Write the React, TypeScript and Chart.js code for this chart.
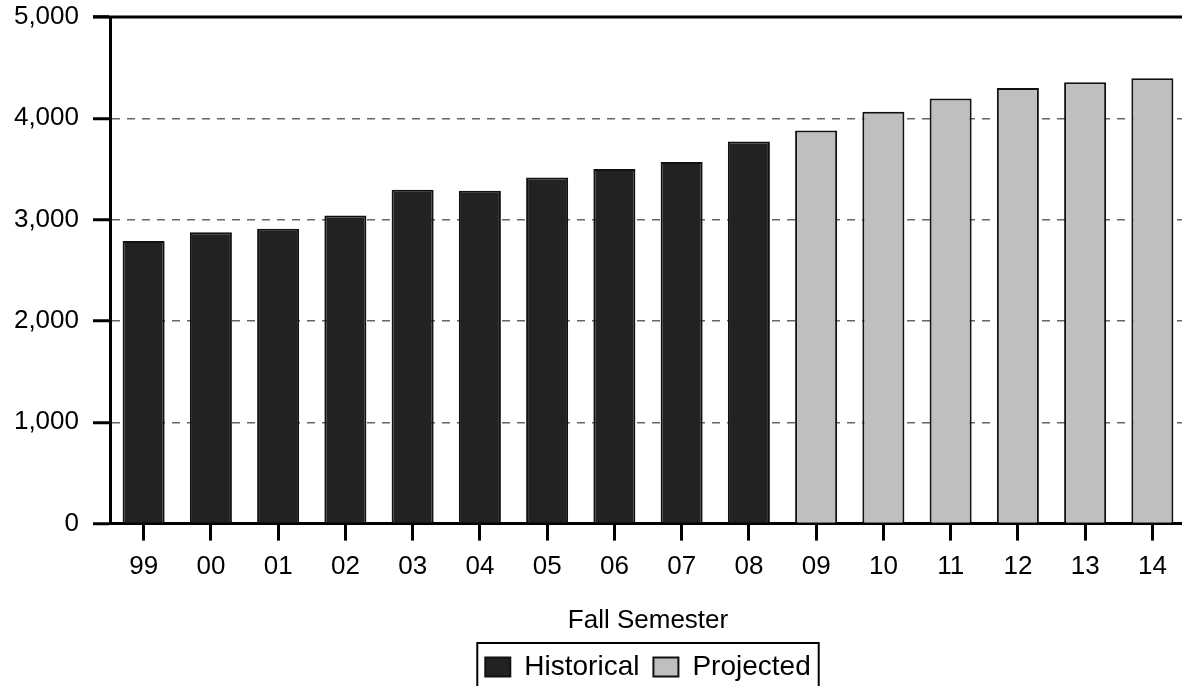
import React, { useEffect, useRef } from "react";
import { Chart, registerables } from "chart.js";

Chart.register(...registerables);

const categories = ["99", "00", "01", "02", "03", "04", "05", "06", "07", "08", "09", "10", "11", "12", "13", "14"];
const historical = [2790, 2875, 2910, 3040, 3295, 3285, 3415, 3500, 3570, 3770, null, null, null, null, null, null];
const projected = [null, null, null, null, null, null, null, null, null, null, 3880, 4065, 4195, 4300, 4355, 4395];
const yMin = 0;
const yMax = 5000;
const yStep = 1000;
const xTitle = "Fall Semester";
const seriesNames = ["Historical", "Projected"];

const FONT = "'Liberation Sans', Arial, Helvetica, sans-serif";
const W = 1186;
const H = 691;

const framePlugin = {
  id: "frameAndLegendBox",
  afterDraw(chart: any) {
    const { ctx, chartArea } = chart;
    const y = chart.scales.y;
    const yTop = y.getPixelForValue(yMax);
    ctx.save();
    ctx.strokeStyle = "#000";
    ctx.lineWidth = 3;
    ctx.beginPath();
    ctx.moveTo(chartArea.left - 17, yTop);
    ctx.lineTo(chart.width, yTop);
    ctx.stroke();
    const hb = chart.legend && chart.legend.legendHitBoxes;
    if (hb && hb.length) {
      const last = hb[hb.length - 1];
      const left = hb[0].left - 8;
      const right = last.left + last.width + 8;
      const top = hb[0].top - 10;
      ctx.lineWidth = 2;
      ctx.strokeRect(left, top, right - left, chart.height + 20 - top);
    }
    ctx.restore();
  },
};

export default function App() {
  const ref = useRef<HTMLCanvasElement | null>(null);

  useEffect(() => {
    document.documentElement.style.overflow = "hidden";
    document.body.style.margin = "0";
    document.body.style.overflow = "hidden";
    const canvas = ref.current;
    if (!canvas) return;
    const chart = new Chart(canvas, {
      type: "bar",
      data: {
        labels: categories,
        datasets: [
          {
            label: seriesNames[0],
            data: historical,
            backgroundColor: "#222222",
            borderColor: "#111111",
            borderWidth: 2,
            grouped: false,
            categoryPercentage: 1,
            barPercentage: 0.625,
          } as any,
          {
            label: seriesNames[1],
            data: projected,
            backgroundColor: "#bfbfbf",
            borderColor: "#111111",
            borderWidth: 2,
            grouped: false,
            categoryPercentage: 1,
            barPercentage: 0.625,
          } as any,
        ],
      },
      options: {
        responsive: false,
        animation: false,
        devicePixelRatio: 1,
        layout: { padding: { top: 17, left: 0, right: 0, bottom: 0 } },
        plugins: {
          tooltip: { enabled: false },
          legend: {
            display: true,
            position: "bottom",
            fullSize: false,
            labels: {
              boxWidth: 25,
              boxHeight: 19,
              padding: 14,
              color: "#000",
              font: { family: FONT, size: 28 },
            },
          },
        },
        scales: {
          x: {
            offset: true,
            grid: {
              display: true,
              drawOnChartArea: false,
              drawTicks: true,
              offset: false,
              tickLength: 17,
              tickWidth: 3,
              tickColor: "#000",
              lineWidth: 3,
            },
            border: { display: true, color: "#000", width: 3 },
            ticks: {
              color: "#000",
              padding: 11,
              font: { family: FONT, size: 26 },
              maxRotation: 0,
              autoSkip: false,
            },
            title: {
              display: true,
              text: xTitle,
              color: "#000",
              font: { family: FONT, size: 26 },
              padding: { top: 11, bottom: 3 },
            },
          },
          y: {
            min: yMin,
            max: yMax,
            afterFit: (scale: any) => {
              scale.width = 110;
              scale.paddingTop = 0;
              scale.paddingBottom = 0;
            },
            grid: {
              color: "#666",
              lineWidth: 1.5,
              drawTicks: true,
              tickLength: 17,
              tickWidth: 3,
              tickColor: "#000",
              tickBorderDash: [],
            },
            border: { display: true, color: "#000", width: 3, dash: [8, 7] },
            ticks: {
              stepSize: yStep,
              color: "#000",
              padding: 14,
              font: { family: FONT, size: 26 },
              callback: (v: any) => Number(v).toLocaleString("en-US"),
            },
          },
        },
      },
      plugins: [framePlugin],
    });
    return () => chart.destroy();
  }, []);

  return (
    <div style={{ position: "fixed", left: 0, top: 0, width: W, height: H, background: "#fff" }}>
      <canvas ref={ref} width={W} height={H} style={{ display: "block" }} />
    </div>
  );
}
